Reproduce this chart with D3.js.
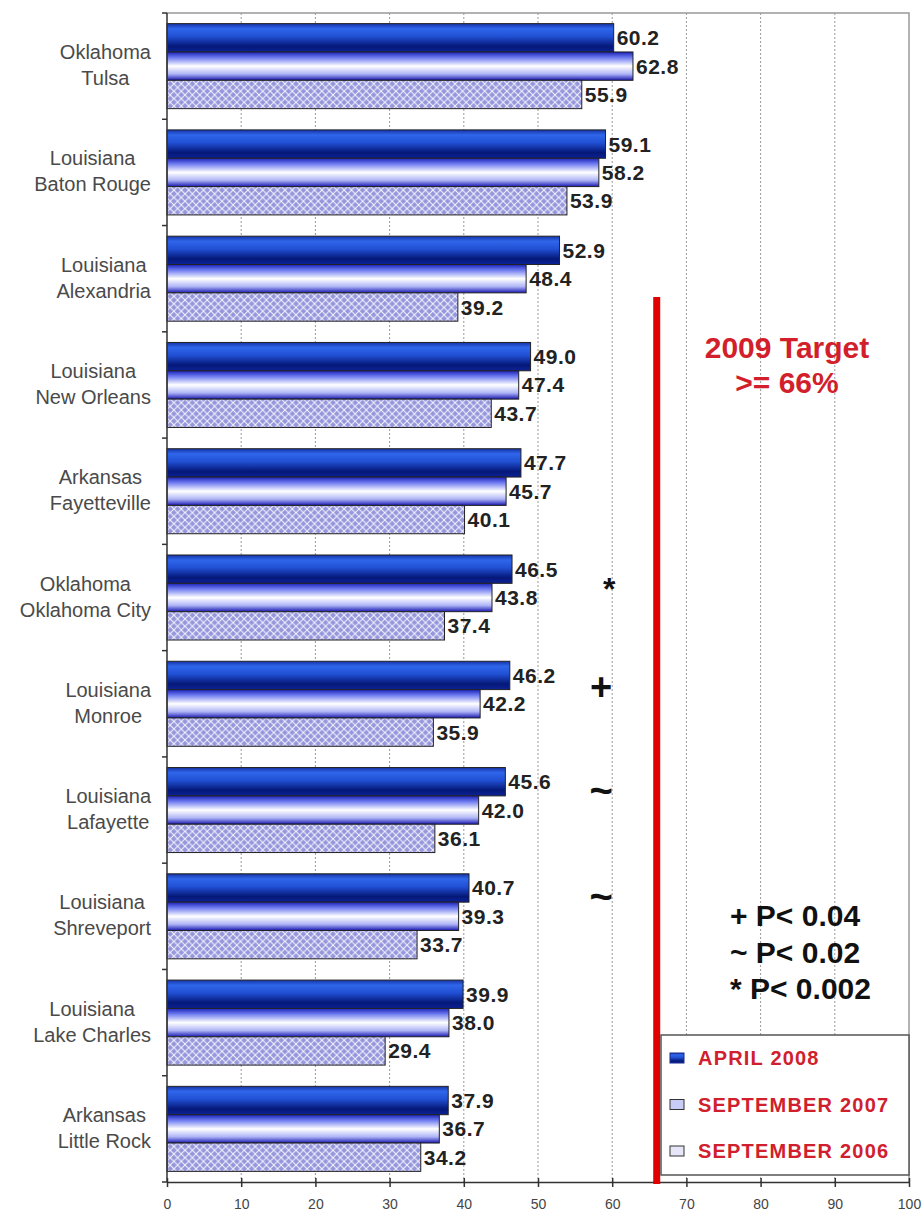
<!DOCTYPE html>
<html>
<head>
<meta charset="utf-8">
<script src="https://cdn.jsdelivr.net/npm/d3@7"></script>
<style>
  body { margin: 0; background: #fff; }
  text { font-family: Arial, "Liberation Sans", sans-serif; }
</style>
</head>
<body>
<svg width="924" height="1213"></svg>
<script>
// data, top to bottom
const states = ['Oklahoma', 'Louisiana', 'Louisiana', 'Louisiana', 'Arkansas', 'Oklahoma',
  'Louisiana', 'Louisiana', 'Louisiana', 'Louisiana', 'Arkansas'];
const cities = ['Tulsa', 'Baton Rouge', 'Alexandria', 'New Orleans', 'Fayetteville', 'Oklahoma City',
  'Monroe', 'Lafayette', 'Shreveport', 'Lake Charles', 'Little Rock'];
const april2008 = [60.2, 59.1, 52.9, 49.0, 47.7, 46.5, 46.2, 45.6, 40.7, 39.9, 37.9];
const sept2007 = [62.8, 58.2, 48.4, 47.4, 45.7, 43.8, 42.2, 42.0, 39.3, 38.0, 36.7];
const sept2006 = [55.9, 53.9, 39.2, 43.7, 40.1, 37.4, 35.9, 36.1, 33.7, 29.4, 34.2];
const sigMarks = ['', '', '', '', '', '*', '+', '~', '~', '', ''];
const seriesNames = ['APRIL 2008', 'SEPTEMBER 2007', 'SEPTEMBER 2006'];
const xTicks = [0, 10, 20, 30, 40, 50, 60, 70, 80, 90, 100];
const target = 66;
const targetLines = ['2009 Target', '>= 66%'];
const pLegend = ['+ P< 0.04', '~ P< 0.02', '* P< 0.002'];

const seriesValues = [april2008, sept2007, sept2006];
const cats = cities.map((c, i) => i);

const svg = d3.select('svg');
const plotL = 167, plotR = 909, plotT = 13, plotB = 1182;

const x = d3.scaleLinear().domain([0, 100]).range([plotL, plotR]);
const y0 = d3.scaleBand().domain(cats).range([plotT, plotB])
  .paddingInner(0.2).paddingOuter(0.1);
const y1 = d3.scaleBand().domain([0, 1, 2]).range([0, y0.bandwidth()]);

// defs: gradients and pattern
const defs = svg.append('defs');
const g1 = defs.append('linearGradient').attr('id', 'grad1')
  .attr('x1', 0).attr('y1', 0).attr('x2', 0).attr('y2', 1);
[[0, '#1533a8'], [0.18, '#2f66ea'], [0.45, '#2150d4'], [0.8, '#051878'], [1, '#0c2296']]
  .forEach(s => g1.append('stop').attr('offset', s[0]).attr('stop-color', s[1]));
const g2 = defs.append('linearGradient').attr('id', 'grad2')
  .attr('x1', 0).attr('y1', 0).attr('x2', 0).attr('y2', 1);
[[0, '#1a22b8'], [0.2, '#6f7cf0'], [0.5, '#ffffff'], [0.78, '#aeb4f6'], [1, '#1818b0']]
  .forEach(s => g2.append('stop').attr('offset', s[0]).attr('stop-color', s[1]));
const pat = defs.append('pattern').attr('id', 'dots')
  .attr('patternUnits', 'userSpaceOnUse').attr('width', 7.4).attr('height', 7.4)
  .attr('y', 1);
pat.append('rect').attr('width', 7.4).attr('height', 7.4).attr('fill', '#f6f6ff');
[[0, 0], [7.4, 0], [0, 7.4], [7.4, 7.4], [3.7, 3.7]].forEach(p =>
  pat.append('path')
    .attr('d', `M${p[0]},${p[1] - 3}L${p[0] + 3},${p[1]}L${p[0]},${p[1] + 3}L${p[0] - 3},${p[1]}Z`)
    .attr('fill', '#9696dc'));
const fills = ['url(#grad1)', 'url(#grad2)', 'url(#dots)'];

// gridlines
svg.append('g').selectAll('line')
  .data(xTicks.filter(d => d > 0 && d < 100))
  .join('line')
  .attr('x1', d => x(d)).attr('x2', d => x(d))
  .attr('y1', plotT).attr('y2', plotB)
  .attr('stroke', '#999').attr('stroke-dasharray', '2,2');

// frame top and right
svg.append('path')
  .attr('d', `M${plotL},${plotT}H${plotR}V${plotB}`)
  .attr('fill', 'none').attr('stroke', '#999').attr('stroke-width', 1.5);

// bars
const groups = svg.append('g').selectAll('g')
  .data(cats).join('g')
  .attr('transform', d => `translate(0,${y0(d)})`);

groups.selectAll('rect')
  .data(i => seriesValues.map((vals, s) => ({ s, v: vals[i] })))
  .join('rect')
  .attr('x', x(0))
  .attr('y', d => y1(d.s))
  .attr('width', d => x(d.v) - x(0))
  .attr('height', y1.bandwidth())
  .attr('fill', d => fills[d.s])
  .attr('stroke', '#222').attr('stroke-width', 1);

groups.selectAll('text.val')
  .data(i => seriesValues.map((vals, s) => ({ s, v: vals[i] })))
  .join('text').attr('class', 'val')
  .attr('x', d => x(d.v) + 3)
  .attr('y', d => y1(d.s) + y1.bandwidth() / 2 + 7.5)
  .attr('font-size', 21).attr('font-weight', 'bold').attr('fill', '#222')
  .attr('letter-spacing', 0.5)
  .text(d => d.v.toFixed(1));

// category labels: lines centred within a right-aligned block
const labelRight = 151;
cats.forEach(i => {
  const cy = y0(i) + y0.bandwidth() / 2;
  const lines = [states[i], cities[i]];
  const t = lines.map((s, k) => svg.append('text')
    .attr('y', cy - 7 + k * 26)
    .attr('font-size', 20).attr('fill', '#4a4a4a')
    .attr('text-anchor', 'middle')
    .text(s));
  const w = d3.max(t, n => n.node().getComputedTextLength());
  t.forEach(n => n.attr('x', labelRight - w / 2));
});

// left axis with ticks at category boundaries
const bounds = d3.range(cats.length + 1).map(i => plotT + i * y0.step());
svg.append('line').attr('x1', plotL).attr('x2', plotL).attr('y1', plotT).attr('y2', plotB)
  .attr('stroke', '#333').attr('stroke-width', 1.5);
svg.append('g').selectAll('line').data(bounds).join('line')
  .attr('x1', plotL - 5).attr('x2', plotL).attr('y1', d => d).attr('y2', d => d)
  .attr('stroke', '#333').attr('stroke-width', 1.5);

// bottom axis
const xAxisG = svg.append('g').attr('transform', `translate(0,${plotB})`)
  .call(d3.axisBottom(x).tickValues(xTicks).tickSize(5).tickSizeOuter(0));
xAxisG.select('.domain').attr('stroke', '#333').attr('stroke-width', 1.5);
xAxisG.selectAll('.tick line').attr('y1', -4).attr('stroke', '#333').attr('stroke-width', 1.5);
xAxisG.selectAll('.tick text').attr('font-size', 14).attr('fill', '#444')
  .attr('font-family', 'Arial, "Liberation Sans", sans-serif').attr('dy', '1.35em');

// significance markers
const markDy = { '*': 19, '+': 12, '~': 10 };
const markSize = { '*': 32, '+': 38, '~': 40 };
svg.append('g').selectAll('text')
  .data(cats.filter(i => sigMarks[i]))
  .join('text')
  .attr('x', i => x(sigMarks[i] === '*' ? 59.6 : 58.5))
  .attr('y', i => y0(i) + y1(0) + y1.bandwidth() - 2 + markDy[sigMarks[i]])
  .attr('text-anchor', 'middle')
  .attr('font-size', i => markSize[sigMarks[i]]).attr('font-weight', 'bold').attr('fill', '#111')
  .text(i => sigMarks[i]);

// target line
svg.append('line')
  .attr('x1', x(target)).attr('x2', x(target))
  .attr('y1', 297).attr('y2', plotB + 2)
  .attr('stroke', '#e00000').attr('stroke-width', 7);

svg.append('g').selectAll('text').data(targetLines).join('text')
  .attr('x', 787).attr('y', (d, k) => 358 + k * 35)
  .attr('text-anchor', 'middle')
  .attr('font-size', 30).attr('font-weight', 'bold').attr('fill', '#d21f2b')
  .text(d => d);

// p-value key
svg.append('g').selectAll('text').data(pLegend).join('text')
  .attr('x', 730).attr('y', (d, k) => 926 + k * 36.5)
  .attr('font-size', 30).attr('font-weight', 'bold').attr('fill', '#111')
  .text(d => d);

// series legend
const leg = svg.append('g');
leg.append('rect').attr('x', 661).attr('y', 1035).attr('width', 248).attr('height', 140)
  .attr('fill', '#fff').attr('stroke', '#555').attr('stroke-width', 1.5);
const legFills = ['url(#grad1)', '#c8ccf6', '#e6e6f8'];
seriesNames.forEach((name, s) => {
  const yy = 1065 + s * 46.5;
  leg.append('rect').attr('x', 670).attr('y', yy - 12).attr('width', 14).attr('height', 10)
    .attr('fill', legFills[s]).attr('stroke', s === 0 ? '#1a2a90' : '#333');
  leg.append('text').attr('x', 698).attr('y', yy)
    .attr('font-size', 20).attr('font-weight', 'bold').attr('fill', '#d0202e')
    .attr('letter-spacing', 1.2)
    .text(name);
});
</script>
</body>
</html>
